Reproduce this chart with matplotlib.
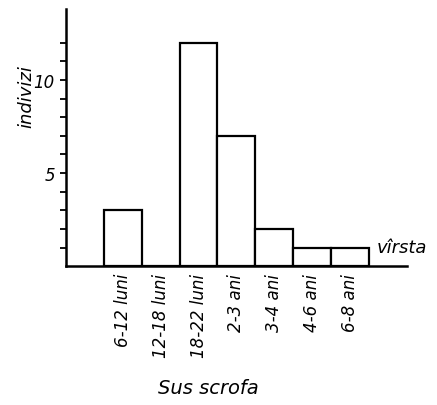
import matplotlib.pyplot as plt
import numpy as np

categories = ["6-12 luni", "12-18 luni", "18-22 luni", "2-3 ani", "3-4 ani", "4-6 ani", "6-8 ani"]
counts = [3, 0, 12, 7, 2, 1, 1]
major_ticks = [5, 10]

plt.rcParams['font.family'] = ['DejaVu Sans']

fig = plt.figure(figsize=(4.37, 4.06), dpi=100)
ax = fig.add_axes([0.151, 0.342, 0.780, 0.633])

x = np.arange(1, len(categories) + 1)
ax.bar(x, counts, width=1, align='edge', facecolor='white', edgecolor='black', linewidth=1.6)

ax.set_xlim(0, 9)
ax.set_ylim(0, 13.8)
ax.set_xticks(x + 0.5)
ax.set_xticklabels(categories, rotation=90, fontsize=12, fontstyle='italic', va='top')
ax.tick_params(axis='x', length=0, pad=5)
ax.set_yticks(major_ticks)
ax.set_yticklabels([str(t) for t in major_ticks], fontsize=12, fontstyle='italic')
ax.set_yticks(np.arange(1, 13), minor=True)
ax.tick_params(axis='y', which='both', direction='out', length=4, width=1.3, pad=4)

for side in ['top', 'right']:
    ax.spines[side].set_visible(False)
for side in ['left', 'bottom']:
    ax.spines[side].set_linewidth(1.8)

fig.text(0.060, 0.761, "indivizi", rotation=90, fontsize=13, fontstyle='italic', ha='center', va='center')
fig.text(0.92, 0.39, "vîrsta", fontsize=13, fontstyle='italic', ha='center', va='center')
fig.text(0.476, 0.042, "Sus scrofa", fontsize=14, fontstyle='italic', ha='center', va='center')

fig.savefig("out.png", dpi=100)
